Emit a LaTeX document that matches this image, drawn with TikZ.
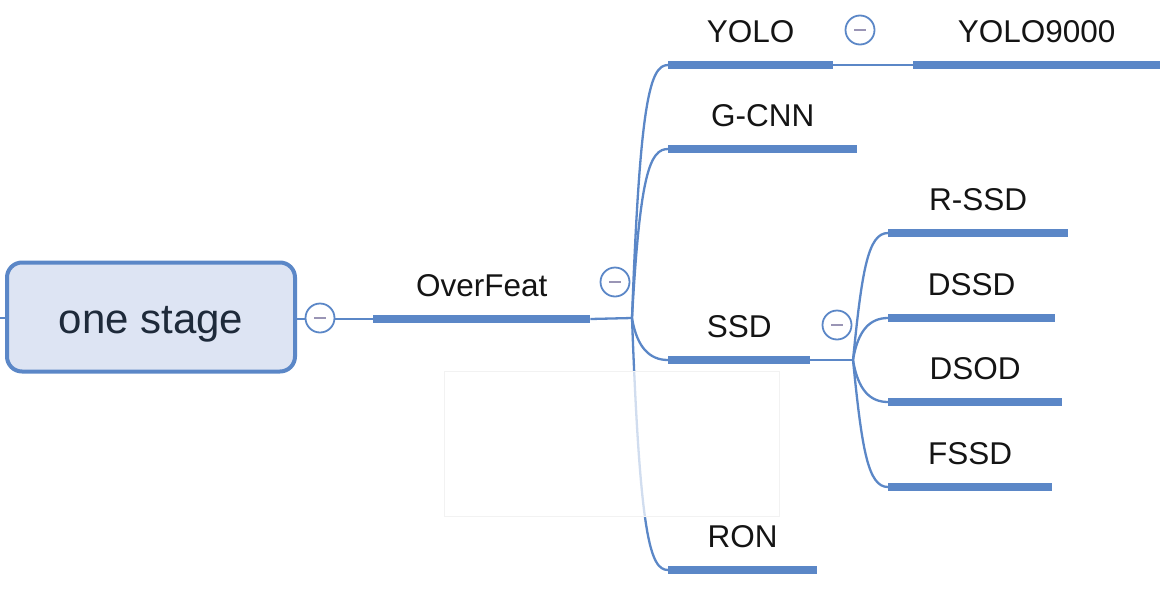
\documentclass[tikz,border=0pt]{standalone}
\usepackage{fontspec}
\setmainfont{Liberation Sans}
\definecolor{bl}{HTML}{5B87C7}
\definecolor{rootfill}{HTML}{DDE4F3}
\definecolor{txt}{HTML}{141414}
\definecolor{roottxt}{HTML}{1E2A3A}
\definecolor{minuscol}{HTML}{9A95B5}
\begin{document}
\begin{tikzpicture}[x=1pt,y=-1pt,
  lab/.style={font=\fontsize{31.5}{37}\selectfont, text=txt, inner sep=0pt,
    text height=23pt, text depth=22pt, anchor=south west},
  uline/.style={draw=bl, line width=8pt, line cap=butt},
  conn/.style={draw=bl, line width=2.3pt},
  fold/.style={circle, draw=bl, line width=1.8pt, fill=white, minimum size=29pt, inner sep=0pt,
    path picture={\draw[minuscol, line width=2.2pt]
      ([xshift=-6pt]path picture bounding box.center) -- ([xshift=6pt]path picture bounding box.center);}},
]
\useasboundingbox (0,0) rectangle (1167,592);
% root
\coordinate (lft) at (0,318);
\node[draw=bl, line width=4pt, fill=rootfill, rounded corners=15pt,
  minimum width=288pt, minimum height=109pt, inner sep=0pt,
  text height=32pt, text depth=0pt,
  font=\fontsize{42}{50}\selectfont, text=roottxt] (root) at (151,317) {one stage};
\draw[conn] (lft) -- (root.west |- lft);
% labels
\node[lab, minimum width=217pt] (overfeat) at (373,319) {OverFeat};
\node[lab, minimum width=165pt] (yolo) at (668,65) {YOLO};
\node[lab, minimum width=247pt] (yolo9) at (913,65) {YOLO9000};
\node[lab, minimum width=189pt] (gcnn) at (668,149) {G-CNN};
\node[lab, minimum width=142pt] (ssd) at (668,360) {SSD};
\node[lab, minimum width=149pt] (ron) at (668,570) {RON};
\node[lab, minimum width=180pt] (rssd) at (888,233) {R-SSD};
\node[lab, minimum width=167pt] (dssd) at (888,318) {DSSD};
\node[lab, minimum width=174pt] (dsod) at (888,402) {DSOD};
\node[lab, minimum width=164pt] (fssd) at (888,487) {FSSD};
\coordinate (j1) at (632,318);
\coordinate (j2) at (853,360);
% thin connectors
\draw[conn] (root.east |- overfeat.south west) -- (overfeat.south west);
\draw[conn] (overfeat.south east) -- (j1);
\draw[conn] (yolo.south east) -- (yolo9.south west);
\draw[conn] (ssd.south east) -- (j2);
% curved branches
\draw[conn] (j1) .. controls +(8,-218) and +(-18,0) .. (yolo.south west);
\draw[conn] (j1) .. controls +(8,-145) and +(-18,0) .. (gcnn.south west);
\draw[conn] (j1) .. controls +(5,30) and +(-18,0) .. (ssd.south west);
\draw[conn] (j1) .. controls +(8,218) and +(-18,0) .. (ron.south west);
\draw[conn] (j2) .. controls +(9,-90) and +(-20,0) .. (rssd.south west);
\draw[conn] (j2) .. controls +(5,-30) and +(-18,0) .. (dssd.south west);
\draw[conn] (j2) .. controls +(5,30) and +(-18,0) .. (dsod.south west);
\draw[conn] (j2) .. controls +(9,90) and +(-20,0) .. (fssd.south west);
% underlines
\foreach \n in {overfeat,yolo,yolo9,gcnn,ssd,ron,rssd,dssd,dsod,fssd}
  \draw[uline] (\n.south west) -- (\n.south east);
% fold markers
\node[fold] (f0) at (320,318) {};
\node[fold] (f1) at (615,282) {};
\node[fold] (f2) at (860,30) {};
\node[fold] (f3) at (837,325) {};
% overlay box
\node[draw=black!5, fill=white, fill opacity=0.72, inner sep=0pt,
  minimum width=335pt, minimum height=145pt, anchor=north west] (blank) at (444,371) {};
\end{tikzpicture}
\end{document}
